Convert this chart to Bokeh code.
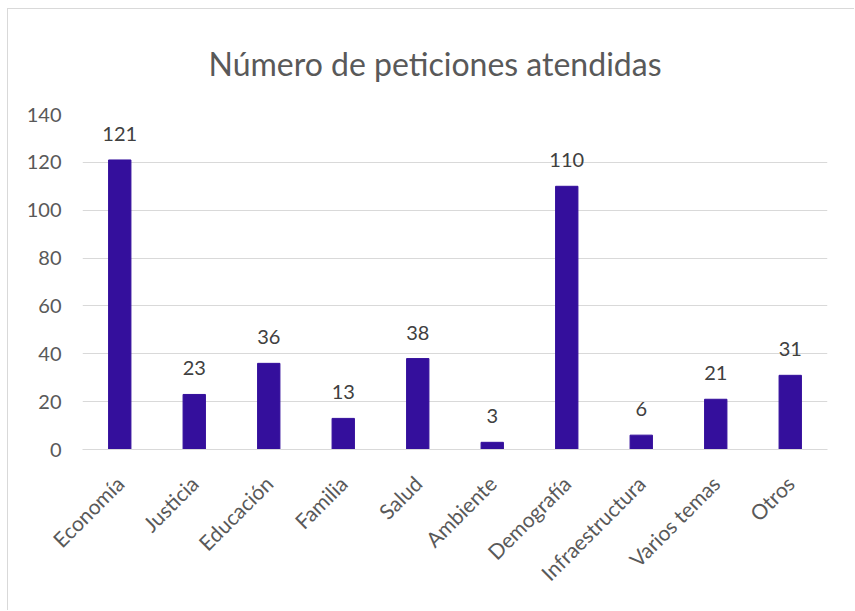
from bokeh.plotting import figure
from bokeh.models import ColumnDataSource, Range1d, LabelSet, FixedTicker
from bokeh.core.properties import value
from bokeh.embed import file_html
from bokeh.resources import INLINE
import math

title_text = "Número de peticiones atendidas"
categories = ["Economía", "Justicia", "Educación", "Familia", "Salud",
              "Ambiente", "Demografía", "Infraestructura", "Varios temas", "Otros"]
values = [121, 23, 36, 13, 38, 3, 110, 6, 21, 31]
y_ticks = [0, 20, 40, 60, 80, 100, 120, 140]

src = ColumnDataSource(dict(cat=categories, val=values, lab=[str(v) for v in values]))

p = figure(x_range=categories, y_range=Range1d(0, 140), width=847, height=602,
           output_backend="svg", toolbar_location=None,
           min_border_left=74, min_border_right=28, min_border_top=105,
           min_border_bottom=162, title=title_text)
p.styles = {"margin-left": "7px", "margin-top": "8px",
            "border-left": "1px solid #d9d9d9", "border-top": "1px solid #d9d9d9"}

p.vbar(x="cat", top="val", width=0.3, source=src, color="#340f9c")

labels = LabelSet(x="cat", y="val", text="lab", source=src, text_align="center",
                  text_baseline="bottom", y_offset=19, text_font=value("Lato"),
                  text_font_size="20px", text_color="#404040")
p.add_layout(labels)

p.title.align = "left"
p.title.offset = 126
p.title.text_font = "Lato"
p.title.text_font_size = "32px"
p.title.text_font_style = "normal"
p.title.text_color = "#595959"
p.title.standoff = 64

p.outline_line_color = None
p.xgrid.grid_line_color = None
p.ygrid.grid_line_color = "#d9d9d9"
p.yaxis.ticker = FixedTicker(ticks=y_ticks)

for ax in (p.xaxis, p.yaxis):
    ax.axis_line_color = None
    ax.major_tick_line_color = None
    ax.minor_tick_line_color = None
    ax.major_label_text_font = "Lato"
    ax.major_label_text_color = "#595959"

p.yaxis.major_label_text_font_size = "20px"
p.xaxis.major_label_text_font_size = "21px"
p.xaxis.axis_line_color = "#d9d9d9"
p.xaxis.major_label_orientation = math.pi / 4
p.xaxis.major_label_standoff = 24
p.yaxis.major_label_standoff = 15

open("out.html", "w").write(file_html(p, INLINE))
